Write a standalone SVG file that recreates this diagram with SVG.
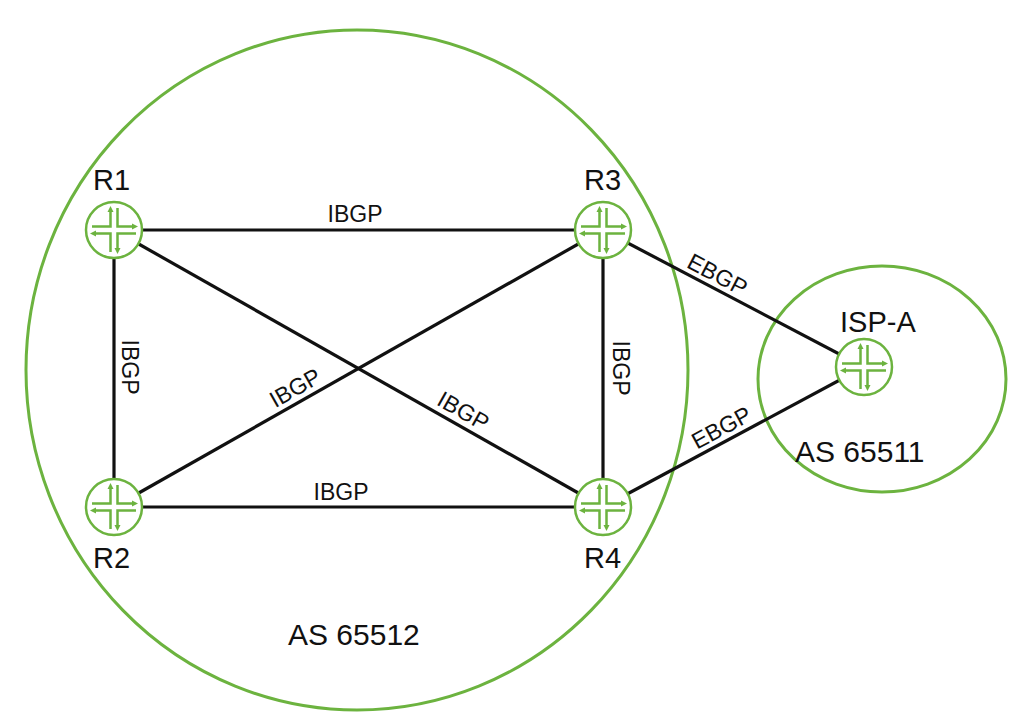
<svg xmlns="http://www.w3.org/2000/svg" width="1031" height="712" viewBox="0 0 1031 712">
<defs>
<style>
.as{fill:none;stroke:#6cb33f;stroke-width:3}
.link{stroke:#111;stroke-width:3.2;fill:none}
.lbl{font-family:"Liberation Sans",Arial,sans-serif;font-size:23px;fill:#111;text-anchor:middle}
.name{font-family:"Liberation Sans",Arial,sans-serif;font-size:29px;fill:#111}
.asl{font-family:"Liberation Sans",Arial,sans-serif;font-size:30px;fill:#111}
.rc{fill:#fff;stroke:#6cb33f;stroke-width:2.5}
.ri{fill:none;stroke:#6cb33f;stroke-width:2.5}
.ra{fill:#6cb33f}
</style>
<symbol id="router" viewBox="-30 -30 60 60" width="60" height="60" overflow="visible">
<circle class="rc" cx="0" cy="0" r="28"/>
<path class="ri" d="M-22,-3.5 H-3.5 V-19 M3.5,-22 V-3.5 H19 M-19,3.5 H-3.5 V22 M22,3.5 H3.5 V19"/>
<polygon class="ra" points="-3.5,-24 -6.5,-18 -0.5,-18"/>
<polygon class="ra" points="24,-3.5 18,-6.5 18,-0.5"/>
<polygon class="ra" points="-24,3.5 -18,0.5 -18,6.5"/>
<polygon class="ra" points="3.5,24 0.5,18 6.5,18"/>
</symbol>
</defs>
<rect width="1031" height="712" fill="#fff"/>
<g id="as65512">
<ellipse class="as" cx="357" cy="370" rx="331" ry="340"/>
<text class="asl" x="288" y="645">AS 65512</text>
</g>
<g id="as65511">
<ellipse class="as" cx="882" cy="379" rx="124" ry="113"/>
<text class="asl" x="795" y="462">AS 65511</text>
</g>
<g id="connectors">
<line class="link" x1="114" y1="230" x2="603" y2="230"/>
<line class="link" x1="114" y1="230" x2="114" y2="507"/>
<line class="link" x1="603" y1="230" x2="603" y2="507"/>
<line class="link" x1="114" y1="507" x2="603" y2="507"/>
<line class="link" x1="114" y1="230" x2="603" y2="507"/>
<line class="link" x1="114" y1="507" x2="603" y2="230"/>
<line class="link" x1="603" y1="230" x2="864" y2="367"/>
<line class="link" x1="603" y1="507" x2="864" y2="367"/>
<text class="lbl" x="355" y="222">IBGP</text>
<text class="lbl" x="341" y="500">IBGP</text>
<text class="lbl" transform="translate(122,367) rotate(90)">IBGP</text>
<text class="lbl" transform="translate(613,368) rotate(90)">IBGP</text>
<text class="lbl" transform="translate(302,400) rotate(-29.6)" y="-6">IBGP</text>
<text class="lbl" transform="translate(456,424) rotate(29.5)" y="-7">IBGP</text>
<text class="lbl" transform="translate(711,287) rotate(27.7)" y="-6">EBGP</text>
<text class="lbl" transform="translate(728,440) rotate(-28.2)" y="-6">EBGP</text>
</g>
<g id="R1">
<use href="#router" x="84" y="200"/>
<text class="name" x="93" y="190">R1</text>
</g>
<g id="R3">
<use href="#router" x="573" y="200"/>
<text class="name" x="584" y="190">R3</text>
</g>
<g id="R2">
<use href="#router" x="84" y="477"/>
<text class="name" x="93" y="568">R2</text>
</g>
<g id="R4">
<use href="#router" x="573" y="477"/>
<text class="name" x="584" y="568">R4</text>
</g>
<g id="ISP-A">
<use href="#router" x="834" y="337"/>
<text class="name" x="840" y="332">ISP-A</text>
</g>
</svg>
